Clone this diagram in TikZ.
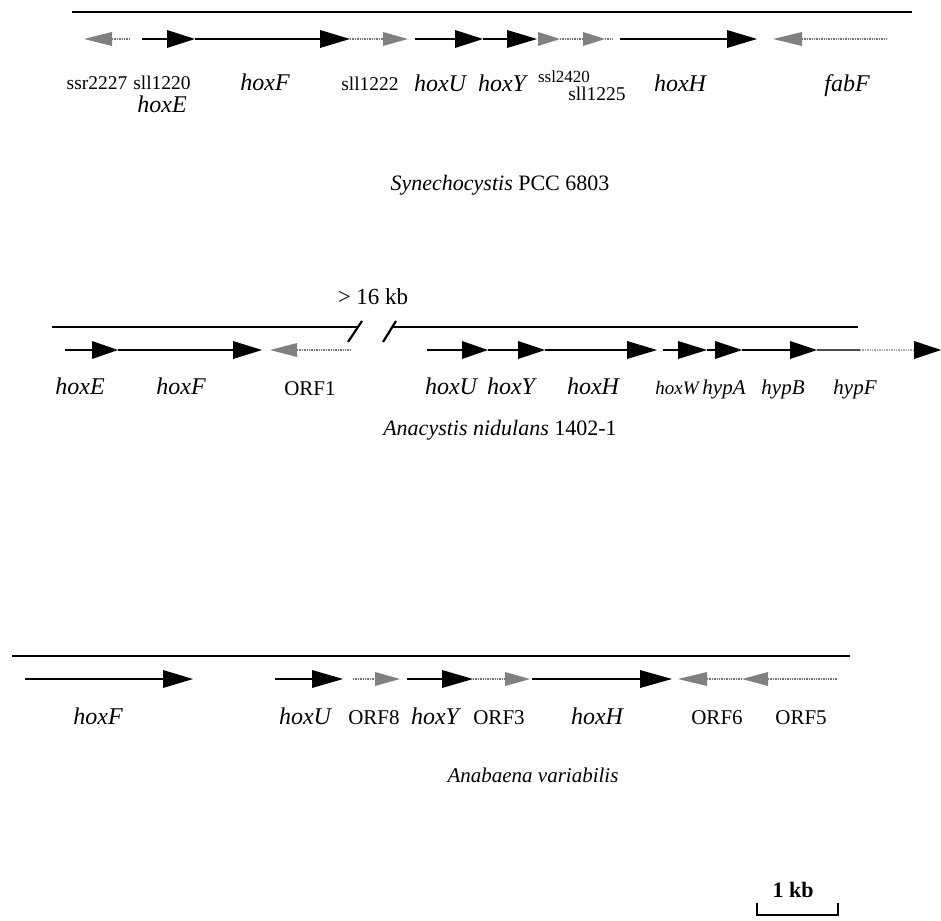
\documentclass[tikz,border=0pt]{standalone}
\usepackage{fontspec}
\setmainfont{Liberation Serif}
\tikzset{
  chrom/.style={line width=2.8pt, black},
  gline/.style={line width=2.2pt, black},
  dline/.style={line width=1.8pt, black!55, dash pattern=on 1.3pt off 1.1pt},
  glab/.style={font=\fontsize{24}{24}\selectfont\itshape, inner sep=0pt, anchor=base},
  slab/.style={font=\fontsize{19.5}{19.5}\selectfont, inner sep=0pt, anchor=base},
  olab/.style={font=\fontsize{21}{21}\selectfont, inner sep=0pt, anchor=base},
  tlab/.style={font=\fontsize{22}{22}\selectfont, inner sep=0pt, anchor=base},
}
\newcommand{\hdR}[3]{\fill[black] (#1,#3-9) -- (#2,#3) -- (#1,#3+9) -- cycle;}
\newcommand{\ghdR}[3]{\fill[black!50] (#1,#3-7) -- (#2,#3) -- (#1,#3+7) -- cycle;}
\newcommand{\ghdL}[3]{\fill[black!50] (#1,#3-7) -- (#2,#3) -- (#1,#3+7) -- cycle;}
\begin{document}
\begin{tikzpicture}[x=1pt,y=-1pt]
\useasboundingbox (0,0) rectangle (941,920);
% ---------------- Synechocystis ----------------
\draw[chrom] (72,12) -- (912,12);
% ssr2227
\ghdL{112}{84}{39} \draw[dline] (112,39) -- (130,39);
% sll1220 / hoxE
\draw[gline] (142,39) -- (168,39); \hdR{167}{195}{39}
% hoxF
\draw[gline] (195,39) -- (321,39); \hdR{320}{350}{39}
% sll1222
\draw[dline] (350,39) -- (384,39); \ghdR{383}{408}{39}
% hoxU
\draw[gline] (415,39) -- (456,39); \hdR{455}{483}{39}
% hoxY
\draw[gline] (483,39) -- (508,39); \hdR{507}{537}{39}
% ssl2420
\ghdR{538}{560}{39}
% sll1225
\draw[dline] (560,39) -- (584,39); \ghdR{583}{605}{39} \draw[dline] (605,39) -- (613,39);
% hoxH
\draw[gline] (620,39) -- (728,39); \hdR{727}{757}{39}
% fabF
\ghdL{802}{773}{39} \draw[dline] (802,39) -- (888,39);
% labels
\node[slab] (l1) at (97,90) {ssr2227};
\node[slab] (l2) at (162,90) {sll1220};
\node[glab] (l3) at (162,113) {hoxE};
\node[glab] (l4) at (265,91) {hoxF};
\node[slab] (l5) at (370,91) {sll1222};
\node[glab] (l6) at (440,92) {hoxU};
\node[glab] (l7) at (502,92) {hoxY};
\node[slab, font=\fontsize{17}{17}\selectfont] (l8) at (564,83) {ssl2420};
\node[slab] (l9) at (597,101) {sll1225};
\node[glab] (l10) at (680,92) {hoxH};
\node[glab] (l11) at (847,92) {fabF};
\node[tlab] (t1) at (500,190) {\textit{Synechocystis} PCC 6803};
% ---------------- Anacystis ----------------
\node[tlab, font=\fontsize{23}{23}\selectfont] (kb16) at (373,304) {> 16 kb};
\draw[gline] (52,327) -- (357,327);
\draw[gline] (348,342) -- (362,321);
\draw[gline] (383,342) -- (396,321);
\draw[gline] (392,327) -- (858,327);
% hoxE
\draw[gline] (65,350) -- (93,350); \hdR{92}{118}{350}
% hoxF
\draw[gline] (118,350) -- (234,350); \hdR{233}{262}{350}
% ORF1
\ghdL{297}{270}{350} \draw[dline] (297,350) -- (352,350);
% hoxU
\draw[gline] (427,350) -- (463,350); \hdR{462}{488}{350}
% hoxY
\draw[gline] (488,350) -- (519,350); \hdR{518}{545}{350}
% hoxH
\draw[gline] (545,350) -- (628,350); \hdR{627}{657}{350}
% hoxW
\draw[gline] (663,350) -- (679,350); \hdR{678}{707}{350}
% hypA
\draw[gline] (707,350) -- (716,350); \hdR{715}{742}{350}
% hypB
\draw[gline] (742,350) -- (791,350); \hdR{790}{817}{350}
% hypF
\draw[line width=1.8pt, black!70] (817,350) -- (860,350);
\draw[dline, black!35] (860,350) -- (915,350); \hdR{914}{941}{350}
% labels
\node[glab] (m1) at (80,394) {hoxE};
\node[glab] (m2) at (181,394) {hoxF};
\node[olab] (m3) at (310,395) {ORF1};
\node[glab] (m4) at (451,394) {hoxU};
\node[glab] (m5) at (511,394) {hoxY};
\node[glab] (m6) at (593,394) {hoxH};
\node[glab, font=\fontsize{19}{19}\selectfont\itshape] (m7) at (677,394) {hoxW};
\node[glab, font=\fontsize{21}{21}\selectfont\itshape] (m8) at (724,394) {hypA};
\node[glab, font=\fontsize{21}{21}\selectfont\itshape] (m9) at (783,394) {hypB};
\node[glab, font=\fontsize{21}{21}\selectfont\itshape] (m10) at (855,394) {hypF};
\node[tlab] (t2) at (500,435) {\textit{Anacystis nidulans} 1402-1};
% ---------------- Anabaena ----------------
\draw[chrom] (12,656) -- (850,656);
% hoxF
\draw[gline] (25,679) -- (164,679); \hdR{163}{193}{679}
% hoxU
\draw[gline] (275,679) -- (313,679); \hdR{312}{343}{679}
% ORF8
\draw[dline] (353,679) -- (376,679); \ghdR{375}{400}{679}
% hoxY
\draw[gline] (407,679) -- (443,679); \hdR{442}{473}{679}
% ORF3
\draw[dline] (473,679) -- (506,679); \ghdR{505}{530}{679}
% hoxH
\draw[gline] (532,679) -- (641,679); \hdR{640}{672}{679}
% ORF6
\ghdL{707}{678}{679} \draw[dline] (707,679) -- (742,679);
% ORF5
\ghdL{768}{742}{679} \draw[dline] (768,679) -- (837,679);
% labels
\node[glab] (b1) at (98,724) {hoxF};
\node[glab] (b2) at (305,724) {hoxU};
\node[olab] (b3) at (374,724) {ORF8};
\node[glab] (b4) at (435,724) {hoxY};
\node[olab] (b5) at (499,724) {ORF3};
\node[glab] (b6) at (597,724) {hoxH};
\node[olab] (b7) at (717,724) {ORF6};
\node[olab] (b8) at (801,724) {ORF5};
\node[tlab, font=\fontsize{21}{21}\selectfont] (t3) at (533,782) {\textit{Anabaena variabilis}};
% ---------------- scale bar ----------------
\node[slab, font=\fontsize{22}{22}\selectfont\bfseries] (sc) at (793,897) {1 kb};
\draw[line width=1.8pt] (757,903) -- (757,915) -- (838,915) -- (838,903);
\end{tikzpicture}
\end{document}
